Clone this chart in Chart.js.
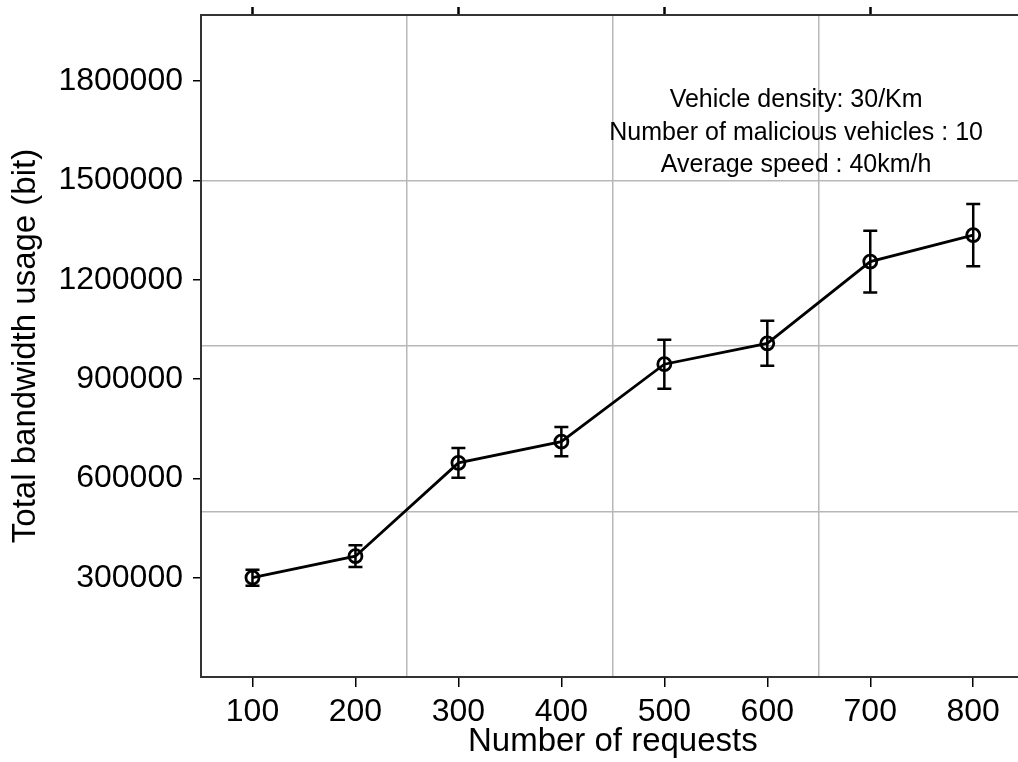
<!DOCTYPE html>
<html>
<head>
<meta charset="utf-8">
<title>Total bandwidth usage</title>
<script src="https://cdn.jsdelivr.net/npm/chart.js@4.4.1/dist/chart.umd.min.js"></script>
<style>
  html, body { margin: 0; padding: 0; background: #fff; overflow: hidden; }
  /* the original figure is cropped at its right edge, so the chart runs past the window */
  #wrap { width: 1034px; height: 762px; position: relative; }
</style>
</head>
<body>
<div id="wrap"><canvas id="bandwidthChart"></canvas></div>
<script>
// data
const requests = [100, 200, 300, 400, 500, 600, 700, 800];
const bandwidth = [300000, 365000, 647000, 711000, 945000, 1008000, 1255000, 1335000];
const bandwidthErr = [24000, 33000, 45000, 44000, 74000, 68000, 93000, 94000];

// axis ticks and grid lines
const xTickLabels = [100, 200, 300, 400, 500, 600, 700, 800];
const xTopTicks = [100, 300, 500, 700];
const xGridLines = [250, 450, 650];
const yTickLabels = [300000, 600000, 900000, 1200000, 1500000, 1800000];
const yGridLines = [500000, 1000000, 1500000];

// annotation box
const noteLines = ['Vehicle density: 30/Km', 'Number of malicious vehicles : 10', 'Average speed : 40km/h'];
const noteAnchor = { x: 628, y: 1722000 };

const FONT = "'Liberation Sans', Arial, Helvetica, sans-serif";
const GRID_COLOR = '#b8b8b8';
const AXIS_COLOR = '#333';

const isGrid = (list, v) => list.includes(v);

// draws the vertical error bars underneath the points
const errorBars = {
  id: 'errorBars',
  beforeDatasetsDraw(chart) {
    const { ctx, scales } = chart;
    const x = scales.x;
    const y = scales.y;
    ctx.save();
    ctx.strokeStyle = '#000';
    ctx.lineWidth = 2.5;
    requests.forEach((r, i) => {
      const px = x.getPixelForValue(r);
      const top = y.getPixelForValue(bandwidth[i] + bandwidthErr[i]);
      const bottom = y.getPixelForValue(bandwidth[i] - bandwidthErr[i]);
      ctx.beginPath();
      ctx.moveTo(px, top);
      ctx.lineTo(px, bottom);
      ctx.moveTo(px - 7, top);
      ctx.lineTo(px + 7, top);
      ctx.moveTo(px - 7, bottom);
      ctx.lineTo(px + 7, bottom);
      ctx.stroke();
    });
    ctx.restore();
  },
};

// the text block in the upper right corner
const noteText = {
  id: 'noteText',
  afterDraw(chart) {
    const { ctx, scales } = chart;
    const cx = scales.x.getPixelForValue(noteAnchor.x);
    const cy = scales.y.getPixelForValue(noteAnchor.y);
    ctx.save();
    ctx.fillStyle = '#000';
    ctx.font = '25px ' + FONT;
    ctx.textAlign = 'center';
    ctx.textBaseline = 'alphabetic';
    noteLines.forEach((line, i) => {
      ctx.fillText(line, cx, cy + i * 32.5);
    });
    ctx.restore();
  },
};

new Chart(document.getElementById('bandwidthChart'), {
  type: 'line',
  data: {
    datasets: [
      {
        data: requests.map((r, i) => ({ x: r, y: bandwidth[i] })),
        borderColor: '#000',
        borderWidth: 2.8,
        pointRadius: 6.5,
        pointBorderWidth: 2.8,
        pointBorderColor: '#000',
        pointBackgroundColor: 'rgba(0,0,0,0)',
        fill: false,
        tension: 0,
      },
    ],
  },
  options: {
    responsive: true,
    maintainAspectRatio: false,
    animation: false,
    layout: { padding: 0 },
    plugins: {
      legend: { display: false },
      tooltip: { enabled: false },
    },
    scales: {
      x: {
        type: 'linear',
        position: 'bottom',
        min: 50,
        max: 850,
        afterBuildTicks: scale => {
          scale.ticks = [...xTickLabels, ...xGridLines].sort((a, b) => a - b).map(v => ({ value: v }));
        },
        afterFit: scale => {
          scale.height = 85;
          scale.paddingLeft = 0;
          scale.paddingRight = 0;
        },
        ticks: {
          autoSkip: false,
          maxRotation: 0,
          padding: 6,
          color: '#000',
          font: { family: FONT, size: 32 },
          callback: v => (isGrid(xGridLines, v) ? '' : String(v)),
        },
        grid: {
          drawOnChartArea: true,
          tickLength: 10,
          lineWidth: 1.5,
          color: c => (c.tick && isGrid(xGridLines, c.tick.value) ? GRID_COLOR : 'rgba(0,0,0,0)'),
          tickColor: c => (c.tick && isGrid(xGridLines, c.tick.value) ? 'rgba(0,0,0,0)' : '#000'),
          tickWidth: 1.5,
        },
        border: { display: true, color: AXIS_COLOR, width: 2 },
        title: {
          display: true,
          text: 'Number of requests',
          color: '#000',
          font: { family: FONT, size: 33 },
          padding: { top: 0, bottom: 0 },
        },
      },
      xTop: {
        type: 'linear',
        position: 'top',
        min: 50,
        max: 850,
        afterBuildTicks: scale => {
          scale.ticks = xTopTicks.map(v => ({ value: v }));
        },
        afterFit: scale => {
          scale.height = 15;
          scale.paddingLeft = 0;
          scale.paddingRight = 0;
        },
        ticks: { display: false },
        grid: {
          drawOnChartArea: false,
          tickLength: 8,
          tickColor: '#000',
          tickWidth: 2.5,
        },
        border: { display: true, color: AXIS_COLOR, width: 2 },
      },
      y: {
        type: 'linear',
        position: 'left',
        min: 0,
        max: 2000000,
        afterBuildTicks: scale => {
          scale.ticks = [...yTickLabels, ...yGridLines]
            .filter((v, i, a) => a.indexOf(v) === i)
            .sort((a, b) => a - b)
            .map(v => ({ value: v }));
        },
        afterFit: scale => {
          scale.width = 201;
          scale.paddingTop = 0;
          scale.paddingBottom = 0;
        },
        ticks: {
          autoSkip: false,
          padding: 10,
          color: '#000',
          font: { family: FONT, size: 32 },
          callback: v => (isGrid(yTickLabels, v) ? String(v) : ''),
        },
        grid: {
          drawOnChartArea: true,
          tickLength: 8,
          lineWidth: 1.5,
          color: c => (c.tick && isGrid(yGridLines, c.tick.value) ? GRID_COLOR : 'rgba(0,0,0,0)'),
          tickColor: c => (c.tick && isGrid(yTickLabels, c.tick.value) ? '#000' : 'rgba(0,0,0,0)'),
          tickWidth: 1.5,
        },
        border: { display: true, color: AXIS_COLOR, width: 2 },
        title: {
          display: true,
          text: 'Total bandwidth usage (bit)',
          color: '#000',
          font: { family: FONT, size: 33 },
          padding: { top: 6, bottom: 0 },
        },
      },
    },
  },
  plugins: [errorBars, noteText],
});
</script>
</body>
</html>
